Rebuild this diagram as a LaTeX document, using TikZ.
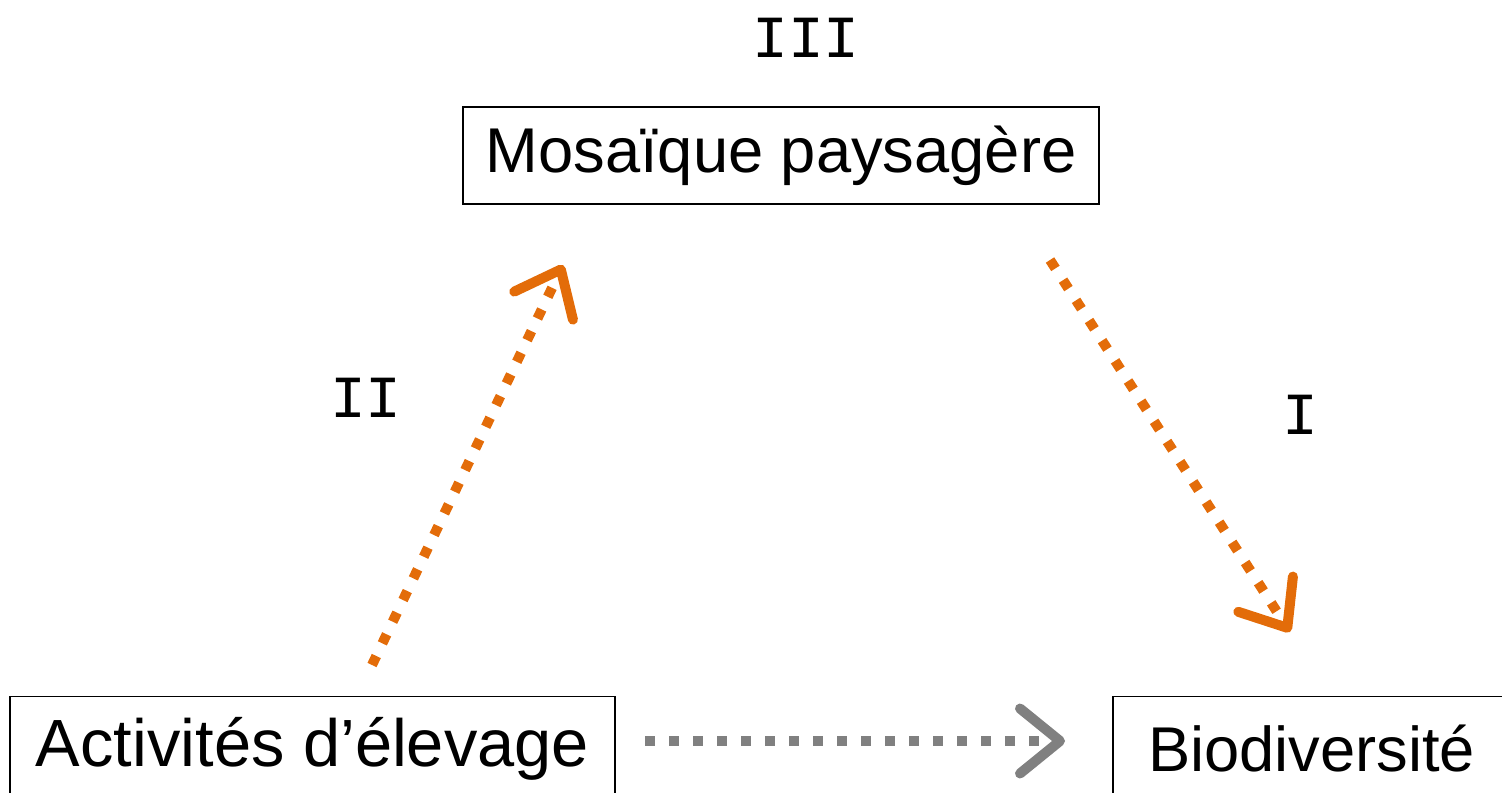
\documentclass[tikz,border=0pt]{standalone}
\usepackage{fontspec}
\setmainfont{Liberation Sans}
\newfontfamily\numfont{Liberation Mono}
\usepackage{tikz}
\usetikzlibrary{arrows.meta}
\definecolor{myarrowcolor}{HTML}{E36C09}
\definecolor{mygraycolor}{HTML}{808080}

\begin{document}
\begin{tikzpicture}[
  mybox/.style={draw, line width=0.8pt, fill=white, rectangle, inner sep=0pt},
  mylink/.style={line width=0.2cm, dash pattern=on 0.2cm off 0.28cm,
    -{Straight Barb[length=0.8cm, width=1.3cm, line width=0.2cm, line cap=round, line join=round]}},
]%
\useasboundingbox (0, 0) rectangle (30.04, -15.84);%
\node[mybox, minimum width=12.72cm, minimum height=1.94cm] (mosaique) at (15.62, -3.11) {\fontsize{36pt}{36pt}\selectfont Mosaïque paysagère};%
\node[mybox, minimum width=12.1cm, minimum height=2.1cm] (elevage) at (6.25, -14.98) {\fontsize{38pt}{38pt}\selectfont Activités d’élevage};%
\node[mybox, minimum width=7.94cm, minimum height=2.1cm] (biodiv) at (26.23, -14.98) {\fontsize{36pt}{36pt}\selectfont Biodiversité};%
\node (trois) at (16.12, -0.76) {\fontsize{34pt}{34pt}\selectfont\numfont III};%
\node (deux) at (7.32, -7.96) {\fontsize{34pt}{34pt}\selectfont\numfont II};%
\node (un) at (26.0, -8.3) {\fontsize{34pt}{34pt}\selectfont\numfont I};%
\coordinate (a1) at (7.44, -13.30);%
\coordinate (a2) at (11.26, -5.30);%
\coordinate (b1) at (21.0, -5.20);%
\coordinate (b2) at (25.8, -12.64);%
\coordinate (c1) at (12.9, -14.82);%
\coordinate (c2) at (21.3, -14.82);%
\draw[mylink, myarrowcolor] (a1) -- (a2);%
\draw[mylink, myarrowcolor] (b1) -- (b2);%
\draw[mylink, mygraycolor] (c1) -- (c2);%
\end{tikzpicture}
\end{document}
